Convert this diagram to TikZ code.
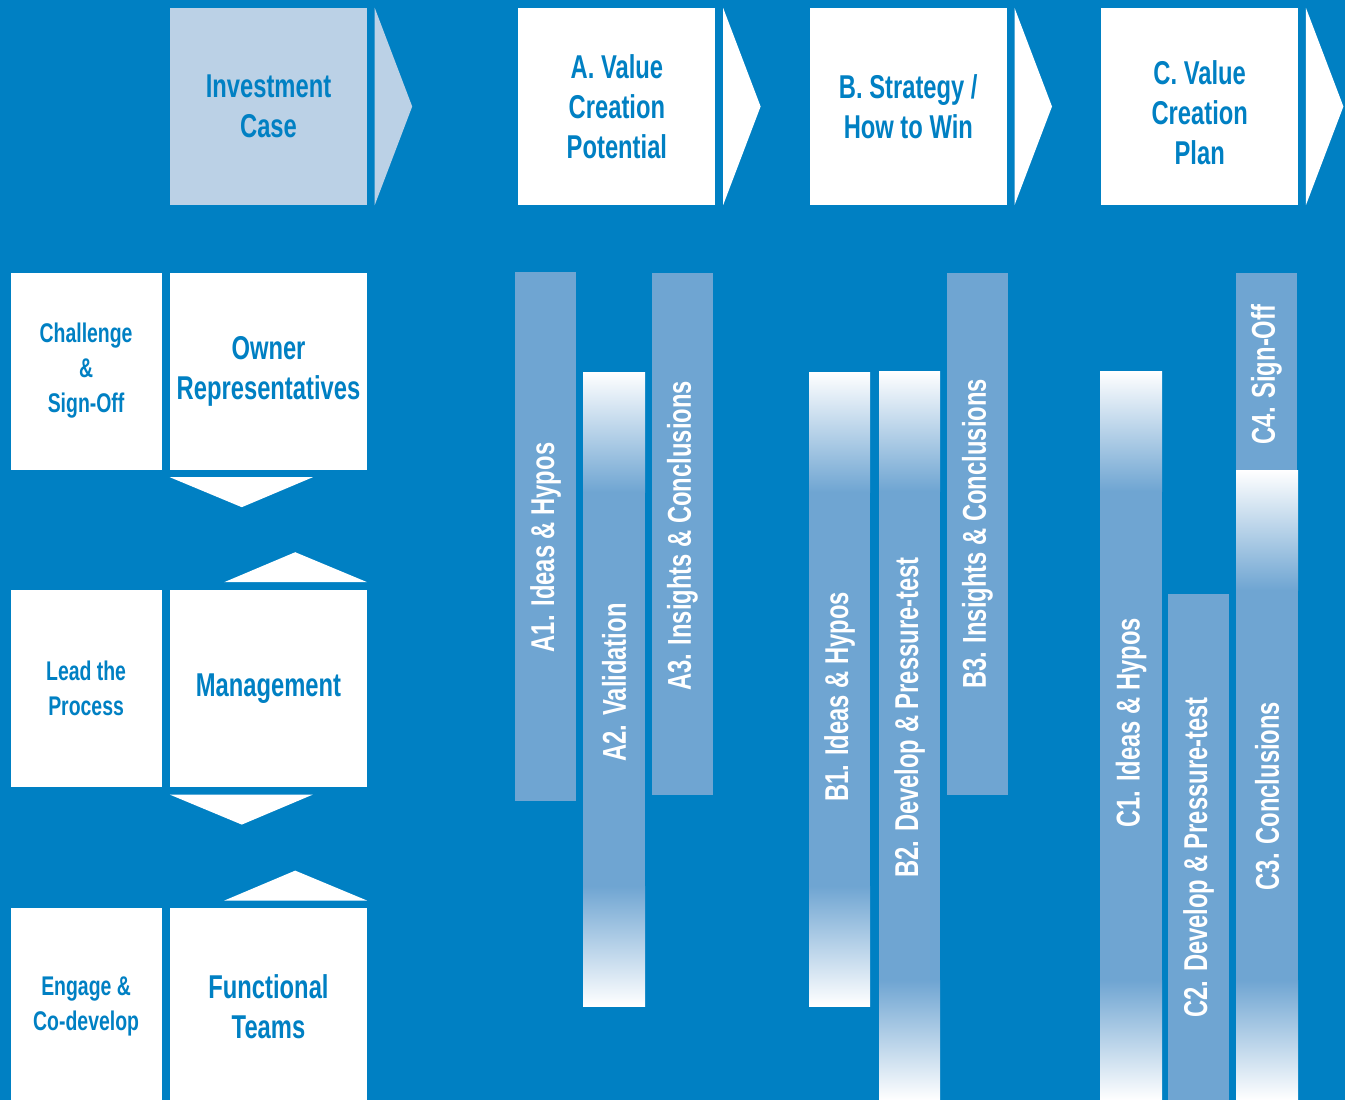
\documentclass[tikz,border=0pt]{standalone}
\usepackage{fontspec}
\setmainfont{Liberation Sans}[FakeStretch=0.72]
\usetikzlibrary{positioning}

\definecolor{bgblue}{RGB}{0,128,195}
\definecolor{paleblue}{RGB}{187,209,230}
\definecolor{barblue}{RGB}{111,165,210}

\newcommand{\headfont}{\fontsize{33}{40}\selectfont\bfseries}
\newcommand{\sidefont}{\fontsize{27}{35}\selectfont\bfseries}

\begin{document}
\begin{tikzpicture}[x=1pt,y=-1pt,
 head box/.style={fill=white,minimum width=197pt,minimum height=197pt,inner sep=0pt,
   align=center,text=bgblue,font=\headfont},
 side box/.style={fill=white,minimum width=151pt,minimum height=197pt,inner sep=0pt,
   align=center,text=bgblue,font=\sidefont},
 bar label/.style={rotate=90,text=white,font=\headfont,inner sep=0pt}]

  \useasboundingbox (0,0) rectangle (1345,1100);
  \clip (0,0) rectangle (1345,1100);
  \fill[bgblue] (0,0) rectangle (1345,1100);

  % phases along the top
  \node[head box,fill=paleblue] (invest) at (268.5,106.5) {Investment\\Case};
  \node[head box] (valpot) [right=151pt of invest] {A. Value\\Creation\\Potential};
  \node[head box] (strat) [right=94pt of valpot] {B. Strategy /\\How to Win};
  \node[head box] (valplan) [right=94pt of strat] {\rule{0pt}{37pt}C. Value\\Creation\\Plan};

  \foreach \n/\c in {invest/paleblue, valpot/white, strat/white, valplan/white}
   \fill[\c] ([xshift=7.5pt]\n.north east) -- ([xshift=45pt]\n.east)
     -- ([xshift=7.5pt]\n.south east) -- cycle;

  % roles on the left
  \node[head box] (owner) at (268.5,371) {Owner\\Representatives};
  \node[head box] (mgmt) [below=120pt of owner] {Management};
  \node[head box] (teams) [below=121pt of mgmt] {Functional\\Teams};

  \node[side box] (challenge) [left=8pt of owner] {Challenge\\\&\\Sign-Off};
  \node[side box] (lead) [left=8pt of mgmt] {Lead the\\Process};
  \node[side box] (engage) [left=8pt of teams] {Engage \&\\Co-develop};

  \foreach \a/\b in {owner/mgmt, mgmt/teams} {
   \fill[white] ([yshift=-7.5pt]\a.south west) -- ([xshift=143pt,yshift=-7.5pt]\a.south west)
     -- ([xshift=72pt,yshift=-37.5pt]\a.south west) -- cycle;
   \fill[white] ([yshift=7.5pt]\b.north east) -- ([xshift=-143pt,yshift=7.5pt]\b.north east)
     -- ([xshift=-72pt,yshift=37.5pt]\b.north east) -- cycle;}

  % solid steps
  \foreach \l/\t/\r/\b in {515/272/576/801, 652/273/713/795, 947/273/1008/795,
                           1168/594/1229/1100, 1236/273/1297/470}
   \fill[barblue] (\l,\t) rectangle (\r,\b);

  % steps fading out at both ends
  \foreach \l/\t/\r/\b in {583/372/645/1006, 809/372/870/1006, 879/371/940/1100,
                           1100/371/1162/1100, 1236/470/1298/1100} {
   \fill[barblue] (\l,\t) rectangle (\r,\b);
   \shade[top color=white,bottom color=barblue] (\l,\t) rectangle (\r,\t+120);
   \shade[top color=barblue,bottom color=white] (\l,\b-120) rectangle (\r,\b);}

  \foreach \n/\x/\y/\txt in {a1/545.5/547.5/A1. Ideas \& Hypos,
                             a2/614/682.5/A2. Validation,
                             a3/682.5/536/A3. Insights \& Conclusions,
                             b1/839.5/697/B1. Ideas \& Hypos,
                             b2/909.5/717.5/B2. Develop \& Pressure-test,
                             b3/977.5/534/B3. Insights \& Conclusions,
                             c1/1131/723/C1. Ideas \& Hypos,
                             c2/1198.5/857.5/C2. Develop \& Pressure-test,
                             c3/1267/796/C3. Conclusions,
                             c4/1266.5/374.5/C4. Sign-Off}
   \node[bar label] (\n) at (\x,\y) {\txt};

\end{tikzpicture}
\end{document}
